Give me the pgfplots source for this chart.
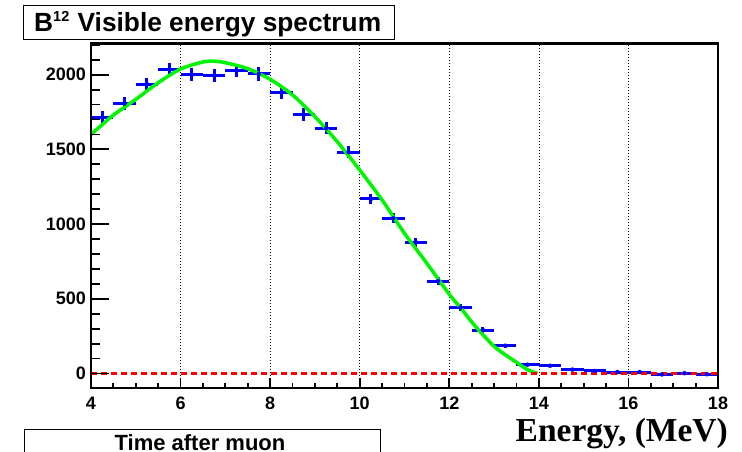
\documentclass[border=0pt]{standalone}
\usepackage{pgfplots}
\pgfplotsset{compat=1.18}
\usepackage{pgfplotstable}
\usepackage{fontspec}
\setmainfont{Liberation Sans}
\newfontfamily\timesfont{Liberation Serif}
\definecolor{rootblue}{RGB}{0,0,255}
\definecolor{rootgreen}{RGB}{0,245,0}
\definecolor{rootred}{RGB}{255,0,0}

\pgfplotstableread{
x y ex ey
4.25 1715 0.25 41
4.75 1808 0.25 43
5.25 1936 0.25 44
5.75 2036 0.25 45
6.25 2000 0.25 45
6.75 1995 0.25 45
7.25 2027 0.25 45
7.75 2005 0.25 45
8.25 1882 0.25 43
8.75 1732 0.25 42
9.25 1641 0.25 41
9.75 1482 0.25 38
10.25 1168 0.25 34
10.75 1039 0.25 32
11.25 880 0.25 30
11.75 619 0.25 25
12.25 441 0.25 21
12.75 291 0.25 17
13.25 186 0.25 14
13.75 59 0.25 8
14.25 52 0.25 7
14.75 26 0.25 5
15.25 17 0.25 4
15.75 10 0.25 3
16.25 10 0.25 3
16.75 -6 0.25 3
17.25 2 0.25 3
17.75 -5 0.25 3
}\datatable

\pgfplotstableread{
x y
4.0 1601
4.25 1665
4.5 1730
5.0 1835
5.5 1946
6.0 2038
6.5 2085
6.75 2090
7.0 2080
7.5 2040
8.0 1969
8.5 1864
9.0 1719
9.5 1551
10.0 1362
10.5 1161
11.0 938
11.5 737
12.0 530
12.25 441
12.5 345
12.75 260
13.0 182
13.25 125
13.5 75
13.75 25
13.97 0
}\fittable

\begin{document}
\begin{tikzpicture}
\path[use as bounding box] (0pt,0pt) rectangle (742pt,452pt);
\begin{axis}[
  at={(91pt,64pt)}, anchor=south west,
  scale only axis, width=627pt, height=344.7pt,
  xmin=4, xmax=18, ymin=-97, ymax=2210,
  clip=false,
  axis line style={draw=none},
  xtick={4,6,...,18},
  ytick={0,500,...,2000},
  major tick length=0pt, minor tick length=0pt,
  xticklabel={\bfseries\fontsize{18}{18}\selectfont\pgfmathprintnumber[assume math mode=true]{\tick}},
  yticklabel={\bfseries\fontsize{18}{18}\selectfont\pgfmathprintnumber[assume math mode=true, 1000 sep={}]{\tick}},
  xticklabel style={anchor=north, inner sep=0pt, yshift=-9pt},
  yticklabel style={anchor=east, inner sep=0pt, xshift=-5pt},
]
% vertical dotted grid
\pgfplotsinvokeforeach{6,8,10,12,14,16}{\draw[black, line width=0.7pt, dash pattern=on 0.8pt off 2.2pt] (axis cs:#1,-97) -- (axis cs:#1,2210);}
\addplot[rootblue, only marks, mark=none, forget plot,
  error bars/.cd, x dir=both, x explicit, y dir=both, y explicit,
  error mark=none, error bar style={rootblue, line width=3pt}]
  table[x=x, y=y, x error=ex, y error=ey] {\datatable};
\addplot[rootgreen, line width=3.5pt, smooth, tension=0.5] table[x=x, y=y] {\fittable};
\addplot[rootred, line width=2.2pt, dash pattern=on 6pt off 4pt] coordinates {(4,0) (18,0)};
\end{axis}
% frame and ticks as filled bars (axis decoration)
\begin{scope}
\fill[black] (89.7pt,62.7pt) rectangle (92.3pt,410pt);
\fill[black] (716.7pt,62.7pt) rectangle (719.3pt,410pt);
\fill[black] (89.7pt,62.7pt) rectangle (719.3pt,65.3pt);
\fill[black] (89.7pt,407.4pt) rectangle (719.3pt,410pt);
\foreach \t in {4,6,...,18} {\fill[black] ({91pt+(\t-4)*44.7857pt-0.9pt},64pt) rectangle ({91pt+(\t-4)*44.7857pt+0.9pt},74pt);}
\foreach \t in {4.5,5.0,...,17.5} {\fill[black] ({91pt+(\t-4)*44.7857pt-0.9pt},64pt) rectangle ({91pt+(\t-4)*44.7857pt+0.9pt},69pt);}
\foreach \v in {0,500,...,2000} {\fill[black] (91pt,{78.493pt+\v*0.149415pt-0.9pt}) rectangle (109pt,{78.493pt+\v*0.149415pt+0.9pt});}
\foreach \v in {100,200,...,2200} {\fill[black] (91pt,{78.493pt+\v*0.149415pt-0.9pt}) rectangle (100pt,{78.493pt+\v*0.149415pt+0.9pt});}
\end{scope}
% title box
\draw[line width=1pt, fill=white] (23pt,412pt) rectangle (394pt,446pt);
\node[anchor=base west, inner sep=0pt, font=\bfseries\fontsize{26.3}{26.3}\selectfont]
  at (34pt,420.3pt) {B\raisebox{10pt}{\fontsize{14.5}{14.5}\selectfont 12}\hspace{1pt} Visible energy spectrum};
% bottom box
\draw[line width=1pt] (24pt,-20pt) rectangle (380pt,22pt);
\node[anchor=base, inner sep=0pt, font=\bfseries\fontsize{22}{22}\selectfont] at (200pt,1pt) {Time after muon};
% x label
\node[anchor=base east, inner sep=0pt, font=\timesfont\bfseries\fontsize{33.5}{33.5}\selectfont] at (728pt,10.3pt) {Energy, (MeV)};
\end{tikzpicture}
\end{document}
